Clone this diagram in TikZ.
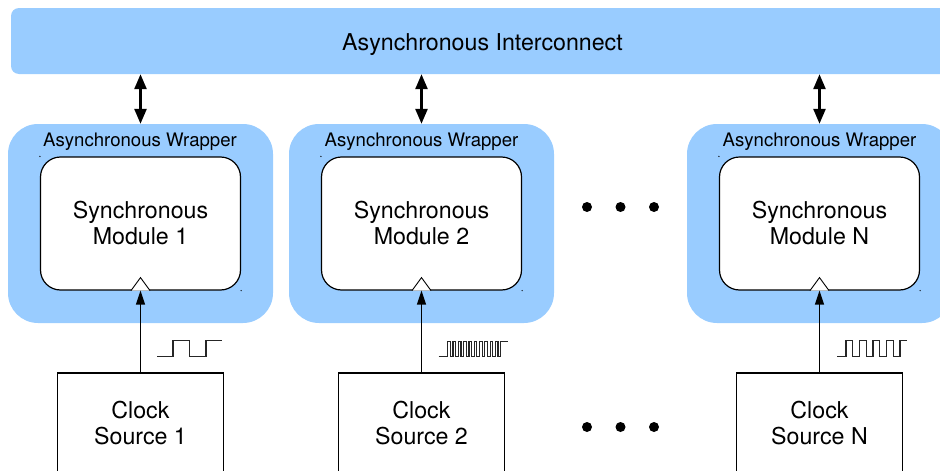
\documentclass[tikz,border=0pt]{standalone}
\usepackage{fontspec}
\setmainfont{TeX Gyre Heros}
\usetikzlibrary{arrows.meta}
\definecolor{wrapblue}{RGB}{153,204,255}
\newcommand\mainsz{\fontsize{23.2pt}{26pt}\selectfont}
\newcommand\labelsz{\fontsize{18.6pt}{22pt}\selectfont}
\begin{document}
\begin{tikzpicture}[x=1pt,y=-1pt,
  busbar/.style={fill=wrapblue, rounded corners=8pt, inner sep=0pt,
    minimum width=959pt, minimum height=66pt},
  wrapper/.style={fill=wrapblue, rounded corners=30pt, inner sep=0pt,
    minimum width=265pt, minimum height=199pt},
  wlabel/.style={font=\labelsz, inner sep=0pt, anchor=base},
  module/.style={draw, line width=1.2pt, fill=white, rounded corners=20pt,
    inner sep=0pt, minimum width=200pt, minimum height=133pt,
    align=center, font=\mainsz},
  clocksrc/.style={draw, line width=1.2pt, inner sep=0pt,
    minimum width=166pt, minimum height=100pt, align=center, font=\mainsz},
  dbl/.style={line width=2.6pt,
    {Triangle[length=15pt,width=12pt]}-{Triangle[length=15pt,width=12pt]}},
  clkarrow/.style={line width=1.3pt, -{Triangle[length=14pt,width=9pt]}},
  wave/.style={line width=1.2pt, black!85, line join=miter},
  dot/.style={circle, fill=black, inner sep=0pt, minimum size=10pt},
  speck/.style={fill=black}
]
\useasboundingbox (0,0) rectangle (940,471);
\clip (0,0) rectangle (940,471);

% interconnect bar
\node[busbar] (bar) at (490.5,41) {};
\node[anchor=base, font=\mainsz, inner sep=0pt] (bartext) at (482.5,50) {Asynchronous Interconnect};

% wrappers
\node[wrapper] (w1) at (140.5,223.5) {};
\node[wrapper] (w2) at (421.5,223.5) {};
\node[wrapper] (w3) at (819.5,223.5) {};
\node[wlabel] (w1l) at (140,146) {Asynchronous Wrapper};
\node[wlabel] (w2l) at (421.5,146) {Asynchronous Wrapper};
\node[wlabel] (w3l) at (819.5,146) {Asynchronous Wrapper};

% synchronous modules
\node[module] (m1) at (140.5,223.5) {Synchronous\\Module 1};
\node[module] (m2) at (421.5,223.5) {Synchronous\\Module 2};
\node[module] (m3) at (819.5,223.5) {Synchronous\\Module N};

% clock sources
\node[clocksrc] (c1) at (140.5,423) {Clock\\Source 1};
\node[clocksrc] (c2) at (421.5,423) {Clock\\Source 2};
\node[clocksrc] (c3) at (819.5,423) {Clock\\Source N};

% bus links
\draw[dbl] (bar.south -| w1.north) -- (w1.north);
\draw[dbl] (bar.south -| w2.north) -- (w2.north);
\draw[dbl] (bar.south -| w3.north) -- (w3.north);

% clock inputs with edge-trigger marks
\foreach \m/\c in {m1/c1, m2/c2, m3/c3}{
  \draw[line width=0.9pt, fill=white]
    ([xshift=-9.5pt]\m.south) -- ([yshift=13pt]\m.south) -- ([xshift=9.5pt]\m.south);
  \draw[clkarrow] (\c.north) -- (\m.south);
  \fill[speck] (\m.north west) circle (0.7pt);
  \fill[speck] (\m.south east) circle (0.7pt);
}

% clock waveforms
\draw[wave] (157,356.5) -- (173,356.5)
  -- ++(0,-16) -- ++(16.5,0) -- ++(0,16) -- ++(16.5,0)
  -- ++(0,-16) -- ++(16,0);
\draw[wave] (438.5,356.5) -- (447.7,356.5)
  \foreach \k in {1,...,10}{ -- ++(0,-15) -- ++(2.65,0) -- ++(0,15) -- ++(2.65,0) }
  -- ++(0,-15) -- ++(7,0);
\draw[wave] (837,356.5) -- (846,356.5)
  \foreach \k in {1,...,4}{ -- ++(0,-16) -- ++(6.75,0) -- ++(0,16) -- ++(6.75,0) }
  -- ++(0,-16) -- ++(6.5,0);

% ellipsis dots
\node[dot] (d1) at (587,207) {};
\node[dot] (d2) at (620.5,207) {};
\node[dot] (d3) at (654,207) {};
\node[dot] (e1) at (587,427) {};
\node[dot] (e2) at (620.5,427) {};
\node[dot] (e3) at (654,427) {};
\end{tikzpicture}
\end{document}
